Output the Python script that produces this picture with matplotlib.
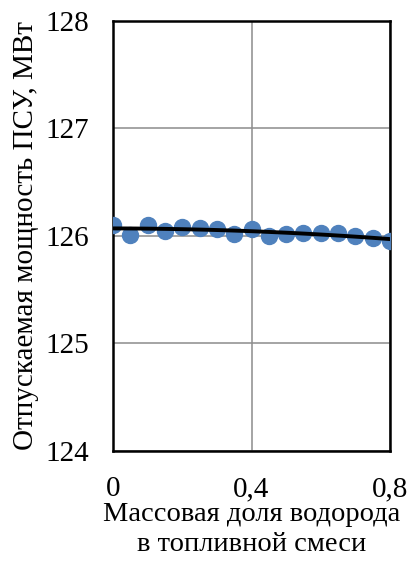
import matplotlib
matplotlib.use('Agg')
import matplotlib.pyplot as plt
import numpy as np

plt.rcParams['font.family'] = ['Liberation Serif', 'DejaVu Serif']

# доля водорода и отпускаемая мощность
h2_share = [0.0, 0.05, 0.1, 0.15, 0.2, 0.25, 0.3, 0.35, 0.4,
            0.45, 0.5, 0.55, 0.6, 0.65, 0.7, 0.75, 0.8]
power = [126.10, 126.01, 126.10, 126.05, 126.08, 126.07, 126.06, 126.02, 126.06,
         126.00, 126.02, 126.03, 126.03, 126.03, 126.00, 125.98, 125.95]

x_ticks = [0, 0.4, 0.8]
x_tick_labels = ['0', '0,4', '0,8']
y_ticks = [124, 125, 126, 127, 128]

fig = plt.figure(figsize=(4.1, 5.61), dpi=100)
ax = fig.add_axes([0.276, 0.196, 0.675, 0.767])

ax.plot(h2_share, power, 'o', color='#4F81BD', markersize=11.5, zorder=3)

# линия тренда
coef = np.polyfit(h2_share, power, 2)
xs = np.linspace(0, 0.8, 100)
ax.plot(xs, np.polyval(coef, xs), color='black', linewidth=2.8, zorder=4)

ax.set_xlim(0, 0.8)
ax.set_ylim(124, 128)
ax.set_xticks(x_ticks)
ax.set_xticklabels(x_tick_labels)
ax.set_yticks(y_ticks)
ax.tick_params(length=0, labelsize=21)
ax.tick_params(axis='y', pad=17)
ax.tick_params(axis='x', pad=18)
ax.grid(True, color='#8c8c8c', linewidth=1.1)
ax.set_axisbelow(True)
for s in ax.spines.values():
    s.set_linewidth(1.8)
    s.set_color('black')

ax.set_xlabel('Массовая доля водорода\nв топливной смеси', fontsize=20.5, labelpad=0, linespacing=1.28)
ax.set_ylabel('Отпускаемая мощность ПСУ, МВт', fontsize=21, labelpad=5)

fig.savefig('out.png', dpi=100)
